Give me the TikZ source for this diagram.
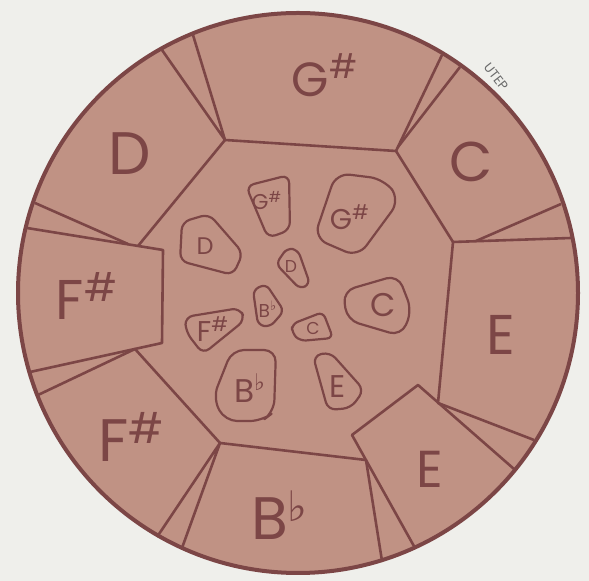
\documentclass[tikz,border=0pt]{standalone}
\usepackage{fontspec}
\setmainfont{Poppins}
\newfontfamily\symfont{DejaVu Sans}
\definecolor{paper}{HTML}{EFEFEB}
\definecolor{skin}{HTML}{C09284}
\definecolor{ink}{HTML}{7C4646}
\definecolor{stamp}{HTML}{6A6A6A}
\newcommand{\shp}{\textsuperscript{\#}}
\newcommand{\flt}{\textsuperscript{\symfont ♭}}

\begin{document}
\begin{tikzpicture}[x=0.5pt,y=-0.5pt,line join=round,
  rim/.style={draw=ink,line width=2pt},
  seam/.style={draw=ink,line width=1.3pt},
  pad/.style={draw=ink,line width=1.1pt,rounded corners=4pt},
  lbl/.style={text=ink,inner sep=0pt,anchor=base,font=\fontsize{#1}{#1}\selectfont}]
  \useasboundingbox (0,0) rectangle (589,581);
  \fill[paper] (0,0) rectangle (589,581);
  \coordinate (ctr) at (298,293);
  \fill[skin] (ctr) circle (280);
  % rim points
  \coordinate (r1) at (162,50);  \coordinate (r2) at (193,35);
  \coordinate (r3) at (442,55);  \coordinate (r4) at (460,67);
  \coordinate (r5) at (561,204); \coordinate (r6) at (571,238);
  \coordinate (r7) at (534,440); \coordinate (r8) at (514,469);
  \coordinate (r9) at (415,548); \coordinate (r10) at (382,561);
  \coordinate (r11) at (182,548); \coordinate (r12) at (157,537);
  \coordinate (r13) at (38,395); \coordinate (r14) at (30,372);
  \coordinate (r15) at (27,228); \coordinate (r16) at (35,203);
  % inner corners
  \coordinate (nw) at (225,140); \coordinate (ne) at (396,151);
  \coordinate (cl) at (398,147); \coordinate (wn) at (138,246);
  \coordinate (dl) at (128,244); \coordinate (f1) at (163,250);
  \coordinate (f2) at (162,343); \coordinate (ws) at (135,349);
  \coordinate (sw) at (220,443); \coordinate (se) at (366,460);
  \coordinate (e1) at (352,435); \coordinate (e2) at (418,385);
  \coordinate (e3) at (438,403); \coordinate (en) at (453,242);
  \coordinate (cb) at (476,241);
  % outer notes
  \draw[seam] (r1) -- (nw) -- (r2);
  \draw[seam] (nw) -- (ne);
  \draw[seam] (r3) -- (ne);
  \draw[seam] (r4) -- (cl);
  \draw[seam] (nw) -- (wn);
  \draw[seam] (ne) -- (en);
  \draw[seam] (r16) -- (dl);
  \draw[seam] (r15) -- (f1) -- (f2) -- (r14);
  \draw[seam] (r13) -- (ws) -- (sw);
  \draw[seam] (r12) -- (sw) -- (r11);
  \draw[seam] (sw) -- (se) -- (r10);
  \draw[seam] (r9) -- (e1) -- (e2) -- (r8);
  \draw[seam] (en) -- (e3) -- (r7);
  \draw[seam] (en) -- (r6);
  \draw[seam] (r5) -- (cb);
  \draw[rim] (ctr) circle (280);
  % inner notes
  \draw[pad] (246,186) -- (289,175) -- (290,230) -- (268,238) -- cycle;
  \draw[pad,rounded corners=7pt] (336,173) -- (384,179) -- (400,200) -- (358,257) -- (314,238) -- cycle;
  \draw[pad] (182,222) -- (209,214) -- (243,253) -- (233,275) -- (180,261) -- cycle;
  \draw[pad,rounded corners=3pt] (276,264) -- (287,248) -- (298,250) -- (310,284) -- (300,289) -- cycle;
  \draw[pad,rounded corners=6pt] (343,291) -- (398,275) -- (412,311) -- (401,336) -- (347,320) -- cycle;
  \draw[pad,rounded corners=3pt] (253,290) -- (266,284) -- (284,311) -- (270,327) -- (258,325) -- cycle;
  \draw[pad,rounded corners=3pt] (292,324) -- (323,312) -- (333,338) -- (300,341) -- (292,333) -- cycle;
  \draw[pad] (185,317) -- (240,308) -- (245,320) -- (203,354) -- (186,332) -- cycle;
  \draw[pad,rounded corners=6pt] (232,350) -- (276,350) -- (274,412) -- (262,421) -- (225,421) -- (213,398) -- cycle;
  \draw[pad] (313,356) -- (330,352) -- (364,390) -- (351,408) -- (328,410) -- cycle;
  % labels
  \node[lbl=24] (gsO) at (325,97) {G\shp};
  \node[lbl=30] (dO) at (130,175) {D};
  \node[lbl=28] (cO) at (471,182) {C};
  \node[lbl=28] (fsA) at (87,320) {F\shp};
  \node[lbl=28] (eA) at (501,355) {E};
  \node[lbl=30] (fsB) at (132,462) {F\shp};
  \node[lbl=30] (bfO) at (280,540) {B\flt};
  \node[lbl=26] (eB) at (430,488) {E};
  \node[lbl=10.7] (gsS) at (267,210) {G\shp};
  \node[lbl=14.3] (gsI) at (350,230) {G\shp};
  \node[lbl=12] (dI) at (205,255) {D};
  \node[lbl=8.6] (dS) at (291,273) {D};
  \node[lbl=16.4] (cI) at (383,317) {C};
  \node[lbl=9.3] (bfS) at (268,318) {B\flt};
  \node[lbl=8.6] (cS) at (313,335) {C};
  \node[lbl=14.3] (fsI) at (213,342) {F\shp};
  \node[lbl=16.4] (bfI) at (250,403) {B\flt};
  \node[lbl=15.7] (eI) at (338,398) {E};
  \node[text=stamp,inner sep=0pt,rotate=-52,font=\fontsize{6.5}{6.5}\selectfont] (utep) at (496,77) {UTEP};
\end{tikzpicture}
\end{document}
